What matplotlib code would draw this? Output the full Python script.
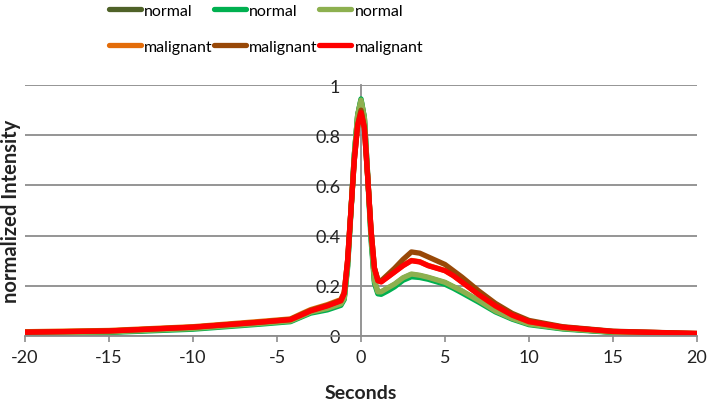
import matplotlib.pyplot as plt

plt.rcParams['font.family'] = ['Lato', 'DejaVu Sans']
plt.rcParams['axes.unicode_minus'] = False

# time axis (seconds)
seconds = [-20, -15, -10, -6, -4.2, -3.5, -3, -2, -1.2, -1, -0.8, -0.6, -0.4, -0.2, 0,
           0.2, 0.4, 0.6, 0.8, 1.0, 1.2, 1.6, 2, 2.5, 3, 3.5, 4, 4.5, 5, 5.5, 6, 7, 8,
           9, 10, 12, 15, 20]

normal_1 = [0.012, 0.016, 0.03, 0.05, 0.06, 0.08, 0.095, 0.11, 0.128, 0.15, 0.28, 0.5,
            0.72, 0.88, 0.94, 0.87, 0.64, 0.4, 0.22, 0.175, 0.175, 0.19, 0.205, 0.23,
            0.245, 0.24, 0.232, 0.222, 0.212, 0.195, 0.178, 0.14, 0.1, 0.07, 0.048,
            0.03, 0.015, 0.008]
normal_2 = [0.01, 0.014, 0.027, 0.047, 0.057, 0.077, 0.091, 0.104, 0.122, 0.145, 0.27,
            0.49, 0.72, 0.88, 0.945, 0.87, 0.63, 0.38, 0.21, 0.168, 0.166, 0.18, 0.196,
            0.222, 0.236, 0.233, 0.226, 0.216, 0.206, 0.19, 0.172, 0.135, 0.096, 0.067,
            0.045, 0.028, 0.014, 0.007]
normal_3 = [0.012, 0.016, 0.03, 0.05, 0.06, 0.08, 0.095, 0.11, 0.128, 0.15, 0.28, 0.5,
            0.72, 0.88, 0.94, 0.87, 0.64, 0.4, 0.22, 0.176, 0.176, 0.192, 0.207, 0.232,
            0.247, 0.242, 0.234, 0.224, 0.214, 0.197, 0.18, 0.142, 0.1, 0.07, 0.048,
            0.03, 0.015, 0.008]
malignant_1 = [0.017, 0.022, 0.037, 0.058, 0.068, 0.09, 0.105, 0.125, 0.145, 0.175,
               0.3, 0.5, 0.7, 0.84, 0.895, 0.83, 0.63, 0.42, 0.27, 0.222, 0.217, 0.236,
               0.256, 0.281, 0.301, 0.296, 0.281, 0.271, 0.261, 0.241, 0.216, 0.166,
               0.12, 0.083, 0.057, 0.035, 0.018, 0.01]
malignant_2 = [0.015, 0.02, 0.035, 0.055, 0.066, 0.087, 0.102, 0.122, 0.142, 0.17, 0.3,
               0.5, 0.7, 0.84, 0.9, 0.83, 0.63, 0.42, 0.27, 0.225, 0.22, 0.245, 0.27,
               0.305, 0.335, 0.33, 0.315, 0.3, 0.285, 0.26, 0.235, 0.18, 0.13, 0.09,
               0.062, 0.037, 0.019, 0.01]
malignant_3 = [0.015, 0.02, 0.035, 0.055, 0.065, 0.085, 0.1, 0.12, 0.14, 0.17, 0.3, 0.5,
               0.7, 0.84, 0.89, 0.83, 0.63, 0.42, 0.27, 0.22, 0.215, 0.235, 0.255, 0.28,
               0.3, 0.295, 0.28, 0.27, 0.26, 0.24, 0.215, 0.165, 0.12, 0.083, 0.057,
               0.035, 0.018, 0.01]

series = [
    ('normal', normal_1, '#4f6228'),
    ('normal', normal_2, '#00b050'),
    ('normal', normal_3, '#8db04f'),
    ('malignant', malignant_1, '#e36c09'),
    ('malignant', malignant_2, '#984807'),
    ('malignant', malignant_3, '#ff0000'),
]

fig = plt.figure(figsize=(7.08, 4.06), dpi=100)
ax = fig.add_axes([0.0353, 0.170, 0.9492, 0.618])

lines = []
for name, vals, col in series:
    ln, = ax.plot(seconds, vals, color=col, lw=3.8, label=name,
                  solid_capstyle='round', solid_joinstyle='round')
    lines.append(ln)

ax.set_xlim(-20, 20)
ax.set_ylim(0, 1)
ax.set_xticks(range(-20, 21, 5))
ax.set_yticks([0, 0.2, 0.4, 0.6, 0.8, 1])
ax.set_yticklabels(['0', '0.2', '0.4', '0.6', '0.8', '1'])

ax.grid(axis='y', color='#8c8c8c', lw=1.3)
ax.set_axisbelow(True)

for s in ['top', 'right']:
    ax.spines[s].set_visible(False)
ax.spines['left'].set_position(('data', 0))
ax.spines['left'].set_color('#8c8c8c')
ax.spines['left'].set_linewidth(1.3)
ax.spines['bottom'].set_color('#8c8c8c')
ax.spines['bottom'].set_linewidth(1.3)
ax.spines['left'].set_zorder(0.5)

ax.tick_params(axis='x', direction='out', length=4.5, width=1.2, color='#8c8c8c',
               labelsize=13, labelcolor='#222222', pad=5)
ax.tick_params(axis='y', length=0, labelsize=13, labelcolor='#222222', pad=15)

ax.set_xlabel('Seconds', fontsize=14, fontweight='bold', color='#222222')
ax.xaxis.set_label_coords(0.5, -0.19)
ax.set_ylabel('normalized Intensity', fontsize=14.5, fontweight='bold', color='#222222')
ax.yaxis.set_label_coords(-0.006, 0.5)

order = [0, 3, 1, 4, 2, 5]
fig.legend([lines[i] for i in order], [series[i][0] for i in order],
           ncol=3, frameon=False, loc='upper left', bbox_to_anchor=(0.14, 1.012),
           fontsize=11.5, handlelength=2.0, handletextpad=0.2, columnspacing=0.1,
           labelspacing=1.35, borderaxespad=0.2)

fig.savefig('out.png', dpi=100)
